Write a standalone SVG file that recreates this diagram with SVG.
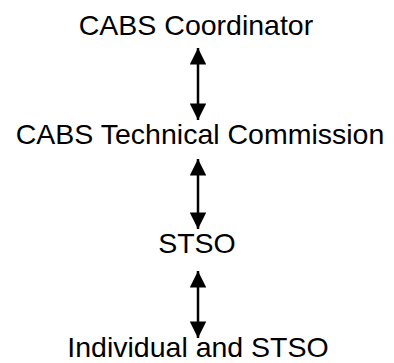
<svg xmlns="http://www.w3.org/2000/svg" width="394" height="363" viewBox="0 0 394 363">
<style>
text{font-family:"Liberation Sans",Arial,sans-serif;font-size:28.5px;fill:#000;text-anchor:middle}
.c{stroke:#000;stroke-width:2.5;fill:none}
</style>
<defs>
<marker id="ah" viewBox="0 0 10 10" refX="10" refY="5" markerWidth="6.8" markerHeight="6.6" orient="auto-start-reverse" markerUnits="strokeWidth"><path d="M0,0L10,5L0,10z" fill="#000"/></marker>
</defs>
<rect width="394" height="363" fill="#fff"/>
<g id="n1"><text x="196" y="35">CABS Coordinator</text></g>
<g id="n2"><text x="200" y="144">CABS Technical Commission</text></g>
<g id="n3"><text x="197" y="253">STSO</text></g>
<g id="n4"><text x="198" y="357">Individual and STSO</text></g>
<g id="connectors">
<line class="c" x1="198" y1="48" x2="198" y2="120" marker-start="url(#ah)" marker-end="url(#ah)"/>
<line class="c" x1="198" y1="159" x2="198" y2="229" marker-start="url(#ah)" marker-end="url(#ah)"/>
<line class="c" x1="198" y1="271" x2="198" y2="338" marker-start="url(#ah)" marker-end="url(#ah)"/>
</g>
</svg>
